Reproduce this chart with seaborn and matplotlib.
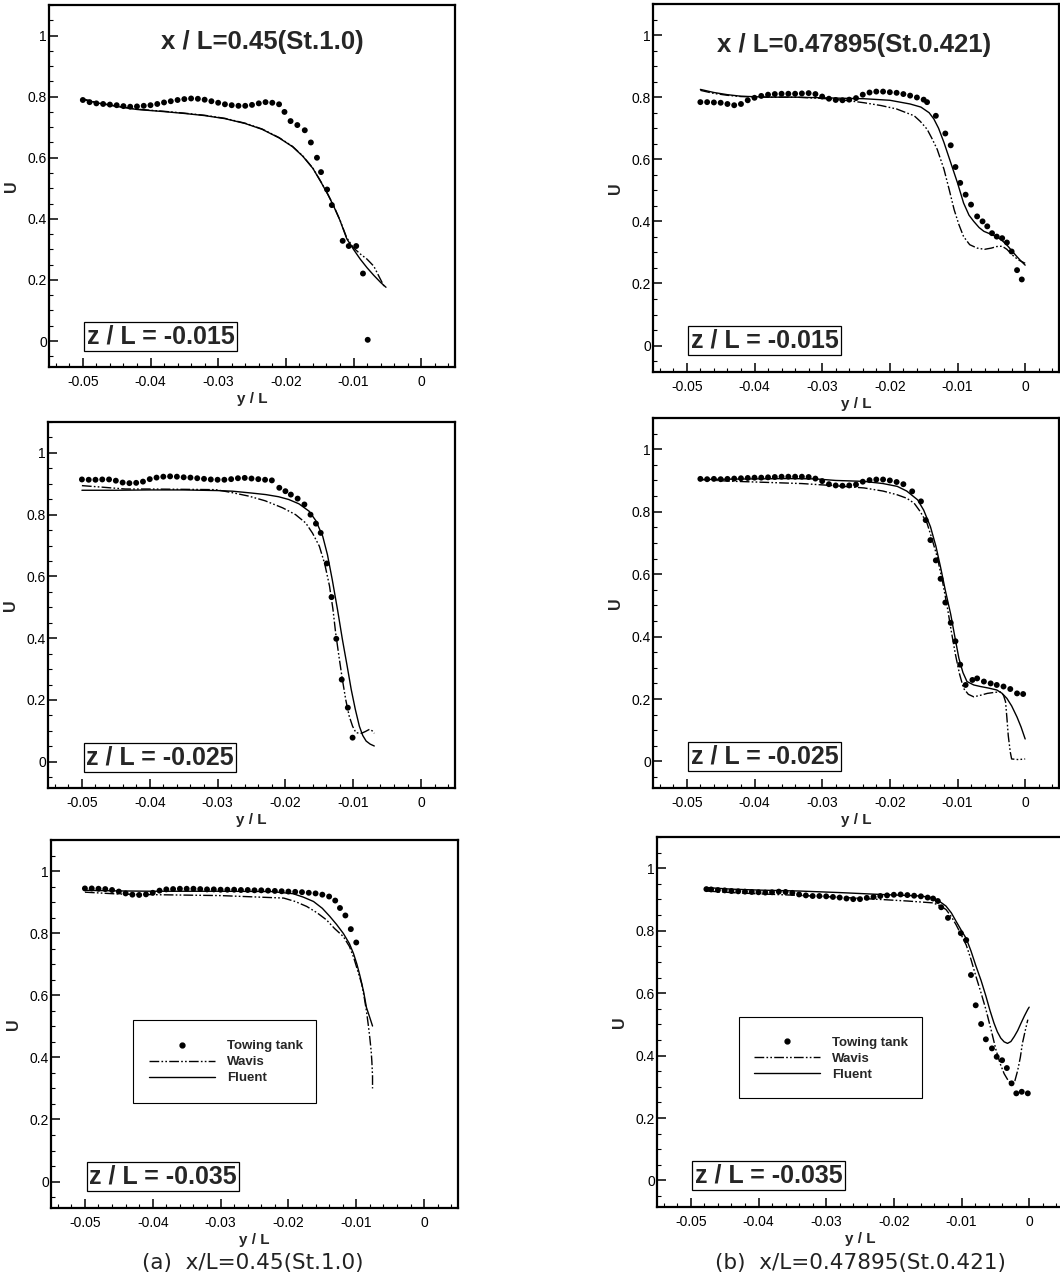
import matplotlib
matplotlib.use("Agg")
import matplotlib.pyplot as plt
import seaborn as sns
from matplotlib.lines import Line2D
from matplotlib.patches import Rectangle
from matplotlib.ticker import MultipleLocator

# ---------------------------------------------------------------- axis ticks
X_TICKS = [-0.05, -0.04, -0.03, -0.02, -0.01, 0.0]
X_TICK_LABELS = ["-0.05", "-0.04", "-0.03", "-0.02", "-0.01", "0"]
Y_TICKS = [0.0, 0.2, 0.4, 0.6, 0.8, 1.0]
Y_TICK_LABELS = ["0", "0.2", "0.4", "0.6", "0.8", "1"]

# ============ (a) x/L = 0.45, z/L = -0.015
A1_TANK_X = [-0.050, -0.049, -0.048, -0.047, -0.046, -0.045, -0.044, -0.043, -0.042, -0.041,
             -0.040, -0.039, -0.038, -0.037, -0.036, -0.035, -0.034, -0.033, -0.032, -0.031,
             -0.030, -0.029, -0.028, -0.027, -0.026, -0.025, -0.024, -0.023, -0.022, -0.021,
             -0.0202, -0.0193, -0.0183, -0.0172, -0.0163, -0.0154, -0.0148, -0.0139, -0.0132,
             -0.0116, -0.0107, -0.0096, -0.0086, -0.0079]
A1_TANK_Y = [0.789, 0.782, 0.778, 0.776, 0.774, 0.772, 0.769, 0.767, 0.768, 0.770,
             0.772, 0.776, 0.781, 0.785, 0.789, 0.792, 0.794, 0.793, 0.790, 0.785,
             0.780, 0.775, 0.772, 0.770, 0.770, 0.773, 0.778, 0.782, 0.780, 0.775,
             0.750, 0.720, 0.707, 0.690, 0.650, 0.600, 0.553, 0.496, 0.445,
             0.328, 0.311, 0.311, 0.221, 0.004]
A1_FLUENT_X = [-0.0502, -0.048, -0.045, -0.042, -0.038, -0.035, -0.032, -0.029, -0.026, -0.0235,
               -0.021, -0.019, -0.0175, -0.016, -0.0148, -0.0138, -0.013, -0.012, -0.011, -0.010,
               -0.009, -0.008, -0.007, -0.006, -0.0052]
A1_FLUENT_Y = [0.792, 0.780, 0.768, 0.758, 0.751, 0.745, 0.738, 0.728, 0.712, 0.693,
               0.665, 0.636, 0.605, 0.565, 0.520, 0.480, 0.445, 0.395, 0.335, 0.300,
               0.268, 0.240, 0.215, 0.192, 0.176]
A1_WAVIS_X = [-0.0502, -0.048, -0.045, -0.042, -0.038, -0.035, -0.032, -0.029, -0.026, -0.0235,
              -0.021, -0.019, -0.0175, -0.016, -0.0148, -0.0138, -0.013, -0.012, -0.011, -0.010,
              -0.009, -0.008, -0.007, -0.0062, -0.0055]
A1_WAVIS_Y = [0.794, 0.781, 0.769, 0.759, 0.752, 0.746, 0.739, 0.729, 0.713, 0.694,
              0.666, 0.637, 0.606, 0.566, 0.521, 0.481, 0.446, 0.396, 0.338, 0.305,
              0.285, 0.268, 0.245, 0.210, 0.180]

# ============ (b) x/L = 0.47895, z/L = -0.015
B1_TANK_X = [-0.048, -0.047, -0.046, -0.045, -0.044, -0.043, -0.042, -0.041, -0.040, -0.039,
             -0.038, -0.037, -0.036, -0.035, -0.034, -0.033, -0.032, -0.031, -0.030, -0.029,
             -0.028, -0.027, -0.026, -0.025, -0.024, -0.023, -0.022, -0.021, -0.020, -0.019,
             -0.018, -0.017, -0.016, -0.015, -0.0145,
             -0.0132, -0.0118, -0.0110, -0.0103, -0.0096, -0.0088, -0.0080, -0.0071, -0.0063,
             -0.0056, -0.0049, -0.0042, -0.0034, -0.0027, -0.0020, -0.0012, -0.0005]
B1_TANK_Y = [0.784, 0.784, 0.783, 0.782, 0.778, 0.774, 0.778, 0.790, 0.798, 0.804,
             0.808, 0.810, 0.811, 0.811, 0.811, 0.812, 0.813, 0.810, 0.802, 0.795,
             0.791, 0.790, 0.792, 0.797, 0.808, 0.815, 0.818, 0.818, 0.816, 0.814,
             0.810, 0.805, 0.799, 0.792, 0.784,
             0.740, 0.683, 0.645, 0.575, 0.524, 0.486, 0.454, 0.416, 0.400,
             0.384, 0.362, 0.351, 0.346, 0.332, 0.303, 0.243, 0.213]
B1_FLUENT_X = [-0.048, -0.046, -0.044, -0.042, -0.038, -0.034, -0.030, -0.026, -0.0238, -0.020,
               -0.017, -0.0154, -0.0142, -0.0135, -0.0128, -0.012, -0.011, -0.010, -0.0091, -0.0083,
               -0.0076, -0.0068, -0.0061, -0.0050, -0.0042, -0.0035, -0.0027, -0.0020, -0.0012,
               -0.0006, 0.0]
B1_FLUENT_Y = [0.825, 0.815, 0.808, 0.803, 0.800, 0.800, 0.798, 0.796, 0.795, 0.790,
               0.778, 0.768, 0.750, 0.730, 0.700, 0.654, 0.589, 0.524, 0.459, 0.420,
               0.400, 0.380, 0.368, 0.358, 0.351, 0.340, 0.324, 0.306, 0.286,
               0.272, 0.259]
B1_WAVIS_X = [-0.048, -0.046, -0.044, -0.042, -0.038, -0.034, -0.030, -0.0262, -0.0238, -0.0213,
              -0.019, -0.0164, -0.0155, -0.0145, -0.0138, -0.013, -0.012, -0.0112, -0.0105, -0.0098,
              -0.0091, -0.0082, -0.0071, -0.0060, -0.0050, -0.0042, -0.0034, -0.0027, -0.0018,
              -0.0010, 0.0]
B1_WAVIS_Y = [0.822, 0.812, 0.806, 0.802, 0.800, 0.800, 0.796, 0.789, 0.782, 0.773,
              0.762, 0.740, 0.722, 0.697, 0.668, 0.632, 0.568, 0.500, 0.438, 0.390,
              0.351, 0.325, 0.314, 0.310, 0.314, 0.319, 0.320, 0.310, 0.290,
              0.276, 0.265]

# ============ (a) x/L = 0.45, z/L = -0.025
A2_TANK_X = [-0.050, -0.049, -0.048, -0.047, -0.046, -0.045, -0.044, -0.043, -0.042, -0.041,
             -0.040, -0.039, -0.038, -0.037, -0.036, -0.035, -0.034, -0.033, -0.032, -0.031,
             -0.030, -0.029, -0.028, -0.027, -0.026, -0.025, -0.024, -0.023, -0.022,
             -0.0209, -0.0200, -0.0192, -0.0182, -0.0172, -0.0163, -0.0155, -0.0148, -0.0139,
             -0.0132, -0.0125, -0.0117, -0.0108, -0.0101]
A2_TANK_Y = [0.914, 0.913, 0.913, 0.914, 0.914, 0.910, 0.904, 0.902, 0.903, 0.907,
             0.915, 0.920, 0.923, 0.924, 0.923, 0.921, 0.920, 0.918, 0.916, 0.914,
             0.913, 0.913, 0.915, 0.918, 0.919, 0.917, 0.915, 0.913, 0.911,
             0.887, 0.876, 0.865, 0.852, 0.833, 0.800, 0.771, 0.741, 0.642,
             0.533, 0.398, 0.266, 0.175, 0.078]
A2_FLUENT_X = [-0.050, -0.045, -0.040, -0.035, -0.030, -0.0278, -0.025, -0.0229, -0.021, -0.0195,
               -0.018, -0.0165, -0.0155, -0.0145, -0.0138, -0.0131, -0.0123, -0.0116, -0.0109,
               -0.0103, -0.0097, -0.0091, -0.0086, -0.0081, -0.0075, -0.0069]
A2_FLUENT_Y = [0.879, 0.879, 0.880, 0.880, 0.878, 0.876, 0.870, 0.865, 0.858, 0.849,
               0.835, 0.811, 0.780, 0.730, 0.670, 0.590, 0.490, 0.396, 0.310,
               0.234, 0.170, 0.115, 0.085, 0.067, 0.057, 0.051]
A2_WAVIS_X = [-0.050, -0.047, -0.0436, -0.040, -0.035, -0.0303, -0.028, -0.0254, -0.023, -0.0204,
              -0.0185, -0.017, -0.016, -0.015, -0.0142, -0.0135, -0.013, -0.0126, -0.0121, -0.0116,
              -0.0111, -0.0106, -0.0101, -0.0096, -0.0088, -0.0082, -0.0076, -0.0072, -0.0069]
A2_WAVIS_Y = [0.894, 0.889, 0.883, 0.883, 0.882, 0.881, 0.872, 0.860, 0.845, 0.822,
              0.800, 0.773, 0.740, 0.698, 0.640, 0.569, 0.495, 0.418, 0.340, 0.266,
              0.200, 0.148, 0.115, 0.094, 0.092, 0.098, 0.105, 0.100, 0.092]

# ============ (b) x/L = 0.47895, z/L = -0.025
B2_TANK_X = [-0.048, -0.047, -0.046, -0.045, -0.044, -0.043, -0.042, -0.041, -0.040, -0.039,
             -0.038, -0.037, -0.036, -0.035, -0.034, -0.033, -0.032, -0.031, -0.030, -0.029,
             -0.028, -0.027, -0.026, -0.025, -0.024, -0.023, -0.022, -0.021, -0.020, -0.019,
             -0.018, -0.0167, -0.0154, -0.0147, -0.0140, -0.0132, -0.0125, -0.0118, -0.0110,
             -0.0103, -0.0096, -0.0088, -0.0078, -0.0071, -0.0061, -0.0051, -0.0042, -0.0032,
             -0.0022, -0.0012, -0.0003]
B2_TANK_Y = [0.905, 0.904, 0.905, 0.904, 0.905, 0.906, 0.907, 0.908, 0.909, 0.909,
             0.910, 0.911, 0.912, 0.912, 0.912, 0.912, 0.911, 0.906, 0.898, 0.888,
             0.884, 0.883, 0.884, 0.887, 0.896, 0.901, 0.903, 0.903, 0.900, 0.895,
             0.888, 0.865, 0.833, 0.773, 0.709, 0.644, 0.585, 0.509, 0.444,
             0.385, 0.310, 0.245, 0.261, 0.266, 0.256, 0.250, 0.245, 0.240,
             0.232, 0.218, 0.216]
B2_FLUENT_X = [-0.048, -0.044, -0.040, -0.035, -0.031, -0.028, -0.0238, -0.021, -0.0189, -0.0175,
               -0.0159, -0.015, -0.014, -0.0132, -0.0125, -0.0118, -0.011, -0.0104, -0.0098,
               -0.0092, -0.0086, -0.0076, -0.0066, -0.0054, -0.0042, -0.0034, -0.0027, -0.0020,
               -0.0012, -0.0006, 0.0]
B2_FLUENT_Y = [0.903, 0.904, 0.905, 0.906, 0.905, 0.900, 0.897, 0.890, 0.881, 0.866,
               0.838, 0.805, 0.752, 0.690, 0.622, 0.548, 0.471, 0.400, 0.331,
               0.285, 0.256, 0.245, 0.240, 0.235, 0.229, 0.218, 0.202, 0.178,
               0.142, 0.110, 0.072]
B2_WAVIS_X = [-0.048, -0.044, -0.0385, -0.033, -0.0287, -0.0238, -0.021, -0.0189, -0.0175, -0.0164,
              -0.0155, -0.0145, -0.0138, -0.013, -0.0122, -0.0115, -0.0109, -0.0103, -0.0097,
              -0.0091, -0.0084, -0.0076, -0.0066, -0.0056, -0.0046, -0.0037, -0.0032, -0.0029,
              -0.0027, -0.0025, -0.0022, -0.0020, -0.0010, 0.0]
B2_WAVIS_Y = [0.903, 0.898, 0.894, 0.890, 0.884, 0.876, 0.866, 0.854, 0.843, 0.827,
              0.800, 0.763, 0.715, 0.655, 0.575, 0.493, 0.415, 0.342, 0.280,
              0.234, 0.215, 0.207, 0.212, 0.218, 0.221, 0.223, 0.212, 0.191,
              0.140, 0.083, 0.030, 0.008, 0.006, 0.008]

# ============ (a) x/L = 0.45, z/L = -0.035
A3_TANK_X = [-0.050, -0.049, -0.048, -0.047, -0.046, -0.045, -0.044, -0.043, -0.042, -0.041,
             -0.040, -0.039, -0.038, -0.037, -0.036, -0.035, -0.034, -0.033, -0.032, -0.031,
             -0.030, -0.029, -0.028, -0.027, -0.026, -0.025, -0.024, -0.023, -0.022, -0.021,
             -0.020, -0.019, -0.018, -0.017, -0.016, -0.015, -0.014,
             -0.0131, -0.0124, -0.0116, -0.0108, -0.0100]
A3_TANK_Y = [0.944, 0.944, 0.943, 0.942, 0.939, 0.934, 0.928, 0.924, 0.923, 0.925,
             0.930, 0.937, 0.941, 0.942, 0.943, 0.943, 0.943, 0.942, 0.941, 0.941,
             0.940, 0.940, 0.940, 0.939, 0.939, 0.938, 0.938, 0.937, 0.936, 0.935,
             0.934, 0.933, 0.932, 0.930, 0.928, 0.924, 0.918,
             0.905, 0.881, 0.857, 0.813, 0.770]
A3_FLUENT_X = [-0.050, -0.045, -0.040, -0.030, -0.0225, -0.0193, -0.0178, -0.0163, -0.015, -0.0139,
               -0.0129, -0.0119, -0.011, -0.0104, -0.0099, -0.0094, -0.0089, -0.0085, -0.008, -0.0076]
A3_FLUENT_Y = [0.938, 0.936, 0.935, 0.935, 0.934, 0.927, 0.916, 0.902, 0.880, 0.854,
               0.828, 0.799, 0.766, 0.734, 0.700, 0.658, 0.610, 0.561, 0.528, 0.501]
A3_WAVIS_X = [-0.050, -0.045, -0.040, -0.030, -0.0207, -0.019, -0.0173, -0.0158, -0.0144, -0.0132,
              -0.0119, -0.011, -0.0104, -0.0098, -0.0092, -0.0088, -0.0085, -0.0082, -0.008, -0.0078,
              -0.0077, -0.0076, -0.0076]
A3_WAVIS_Y = [0.932, 0.926, 0.924, 0.921, 0.913, 0.902, 0.886, 0.866, 0.843, 0.815,
              0.789, 0.757, 0.723, 0.680, 0.637, 0.590, 0.550, 0.500, 0.463, 0.420,
              0.387, 0.340, 0.300]

# ============ (b) x/L = 0.47895, z/L = -0.035
B3_TANK_X = [-0.0477, -0.047, -0.046, -0.045, -0.044, -0.043, -0.042, -0.041, -0.040, -0.039,
             -0.038, -0.037, -0.036, -0.035, -0.034, -0.033, -0.032, -0.031, -0.030, -0.029,
             -0.028, -0.027, -0.026, -0.025, -0.024, -0.023, -0.022, -0.021, -0.020, -0.019,
             -0.018, -0.017, -0.016, -0.015, -0.0142, -0.0135,
             -0.0130, -0.0120, -0.0101, -0.0093, -0.0086, -0.0079, -0.0071, -0.0064, -0.0055,
             -0.0048, -0.0040, -0.0033, -0.0026, -0.0019, -0.0011, -0.0002]
B3_TANK_Y = [0.933, 0.932, 0.930, 0.929, 0.927, 0.926, 0.925, 0.924, 0.923, 0.922,
             0.923, 0.925, 0.924, 0.921, 0.916, 0.913, 0.911, 0.911, 0.910, 0.908,
             0.906, 0.903, 0.901, 0.901, 0.905, 0.908, 0.911, 0.913, 0.915, 0.916,
             0.914, 0.912, 0.910, 0.906, 0.903, 0.895,
             0.875, 0.841, 0.792, 0.770, 0.658, 0.561, 0.501, 0.452, 0.423,
             0.396, 0.385, 0.360, 0.311, 0.279, 0.284, 0.279]
B3_FLUENT_X = [-0.0477, -0.044, -0.040, -0.034, -0.028, -0.022, -0.016, -0.0142, -0.0132, -0.0123,
               -0.0115, -0.0108, -0.010, -0.0093, -0.0086, -0.0079, -0.0071, -0.0064, -0.0058,
               -0.0052, -0.0047, -0.0042, -0.0037, -0.0032, -0.0027, -0.0022, -0.0017, -0.0012,
               -0.0007, -0.0002, 0.0]
B3_FLUENT_Y = [0.938, 0.933, 0.930, 0.927, 0.922, 0.916, 0.911, 0.905, 0.893, 0.879,
               0.857, 0.830, 0.800, 0.775, 0.735, 0.689, 0.640, 0.591, 0.545,
               0.504, 0.476, 0.456, 0.444, 0.439, 0.445, 0.461, 0.480, 0.504,
               0.527, 0.548, 0.555]
B3_WAVIS_X = [-0.0477, -0.044, -0.040, -0.034, -0.028, -0.022, -0.018, -0.0142, -0.0132, -0.0123,
              -0.0115, -0.0108, -0.0100, -0.0093, -0.0086, -0.0079, -0.0071, -0.0064, -0.0056,
              -0.0049, -0.0043, -0.0037, -0.0031, -0.0026, -0.0021, -0.0017, -0.0013, -0.0010,
              -0.0006, -0.0002]
B3_WAVIS_Y = [0.927, 0.922, 0.918, 0.913, 0.907, 0.900, 0.895, 0.889, 0.880, 0.868,
              0.845, 0.819, 0.785, 0.754, 0.708, 0.656, 0.600, 0.548, 0.480,
              0.418, 0.375, 0.342, 0.320, 0.309, 0.320, 0.352, 0.395, 0.439,
              0.478, 0.515]

PANEL_TITLES = ["x / L=0.45(St.1.0)", "x / L=0.47895(St.0.421)"]
DEPTH_LABELS = ["z / L = -0.015", "z / L = -0.025", "z / L = -0.035"]
CAPTIONS = ["(a)  x/L=0.45(St.1.0)", "(b)  x/L=0.47895(St.0.421)"]
SERIES_NAMES = ["Towing tank", "Wavis", "Fluent"]

# ---------------------------------------------------------------- style
sns.set_theme(style="ticks")
plt.rcParams["font.family"] = ["Liberation Sans", "DejaVu Sans"]
plt.rcParams.update({
    "axes.linewidth": 1.6,
    "axes.edgecolor": "black",
    "xtick.direction": "in",
    "ytick.direction": "in",
    "xtick.labelsize": 10,
    "ytick.labelsize": 10,
    "xtick.color": "black",
    "ytick.color": "black",
})

W, H = 1060, 1281
fig = plt.figure(figsize=(W / 100, H / 100), dpi=100)
fig.patch.set_facecolor("white")

# axes boxes in pixels: left, top, right, bottom
BOXES = [
    [(49, 5, 455, 367), (653, 4, 1059, 372)],
    [(48, 422, 455, 788), (653, 418, 1059, 788)],
    [(51, 840, 458, 1208), (657, 837, 1063, 1207)],
]

WAVIS_DASH = (0, (7, 1.6, 1.2, 1.6, 1.2, 1.6))

panels = [
    [(A1_TANK_X, A1_TANK_Y, A1_WAVIS_X, A1_WAVIS_Y, A1_FLUENT_X, A1_FLUENT_Y),
     (B1_TANK_X, B1_TANK_Y, B1_WAVIS_X, B1_WAVIS_Y, B1_FLUENT_X, B1_FLUENT_Y)],
    [(A2_TANK_X, A2_TANK_Y, A2_WAVIS_X, A2_WAVIS_Y, A2_FLUENT_X, A2_FLUENT_Y),
     (B2_TANK_X, B2_TANK_Y, B2_WAVIS_X, B2_WAVIS_Y, B2_FLUENT_X, B2_FLUENT_Y)],
    [(A3_TANK_X, A3_TANK_Y, A3_WAVIS_X, A3_WAVIS_Y, A3_FLUENT_X, A3_FLUENT_Y),
     (B3_TANK_X, B3_TANK_Y, B3_WAVIS_X, B3_WAVIS_Y, B3_FLUENT_X, B3_FLUENT_Y)],
]

TITLE_POS = [(-0.0235, 0.978), (-0.0253, 0.968)]
LEGEND_BOX = [(0.201, 0.285, 0.45, 0.226), (0.202, 0.295, 0.45, 0.219)]
LEGEND_ANCHOR = [(0.241, 0.456), (0.239, 0.461)]

for r in range(3):
    for c in range(2):
        l, t, rr, b = BOXES[r][c]
        ax = fig.add_axes([l / W, 1 - b / H, (rr - l) / W, (b - t) / H])
        tx, ty, wx, wy, fx, fy = panels[r][c]

        sns.lineplot(x=fx, y=fy, ax=ax, color="black", lw=1.0, sort=False,
                     estimator=None)
        sns.lineplot(x=wx, y=wy, ax=ax, color="black", lw=1.0, sort=False,
                     estimator=None, linestyle=WAVIS_DASH)
        sns.scatterplot(x=tx, y=ty, ax=ax, color="black", s=18,
                        edgecolor="none", marker="o", zorder=3)

        ax.set_xlim(-0.055, 0.005)
        ax.set_ylim(-0.085, 1.1)
        ax.set_xticks(X_TICKS)
        ax.set_xticklabels(X_TICK_LABELS)
        ax.set_yticks(Y_TICKS)
        ax.set_yticklabels(Y_TICK_LABELS)
        ax.xaxis.set_minor_locator(MultipleLocator(0.002))
        ax.yaxis.set_minor_locator(MultipleLocator(0.05))
        ax.tick_params(which="both", direction="in", top=False, right=False,
                       bottom=True, left=True, color="black")
        ax.tick_params(which="major", length=6.5, width=1.1)
        ax.tick_params(which="minor", length=3.2, width=0.8)
        ax.tick_params(axis="x", which="major", pad=6)
        ax.tick_params(axis="y", which="major", pad=1.5)

        ax.set_xlabel("y / L", fontsize=11, fontweight="bold", labelpad=2)
        ax.set_ylabel("U", fontsize=11.5, fontweight="bold", labelpad=6)
        for sp in ax.spines.values():
            sp.set_visible(True)
            sp.set_linewidth(1.6)

        ax.text(-0.0385, 0.015, DEPTH_LABELS[r], fontsize=18,
                fontweight="bold", ha="center", va="center",
                bbox=dict(boxstyle="square,pad=0.1", fc="white", ec="black",
                          lw=0.9))

        if r == 0:
            tx0, ty0 = TITLE_POS[c]
            ax.text(tx0, ty0, PANEL_TITLES[c], fontsize=18.5, fontweight="bold",
                    ha="center", va="center")

        if r == 2:
            bx, by, bw, bh = LEGEND_BOX[c]
            ax.add_patch(Rectangle((bx, by), bw, bh, transform=ax.transAxes,
                                   fill=True, fc="white", ec="black", lw=0.8,
                                   zorder=4))
            handles = [
                Line2D([], [], color="black", marker="o", ms=3.5, ls="none"),
                Line2D([], [], color="black", lw=1.0, ls=WAVIS_DASH),
                Line2D([], [], color="black", lw=1.0),
            ]
            leg = ax.legend(handles, SERIES_NAMES, loc="upper left",
                            bbox_to_anchor=LEGEND_ANCHOR[c], frameon=False,
                            borderaxespad=0, borderpad=0, handlelength=5.0,
                            handletextpad=0.9, labelspacing=0.28,
                            prop={"weight": "bold", "size": 9.5})
            leg.set_zorder(5)

for i, cap in enumerate(CAPTIONS):
    cx = [253, 860][i]
    fig.text(cx / W, 1 - 1263 / H, cap, fontsize=15.5, ha="center",
             va="center", family=["DejaVu Sans"], color="#222222")

fig.savefig("out.png", dpi=100, facecolor="white")
